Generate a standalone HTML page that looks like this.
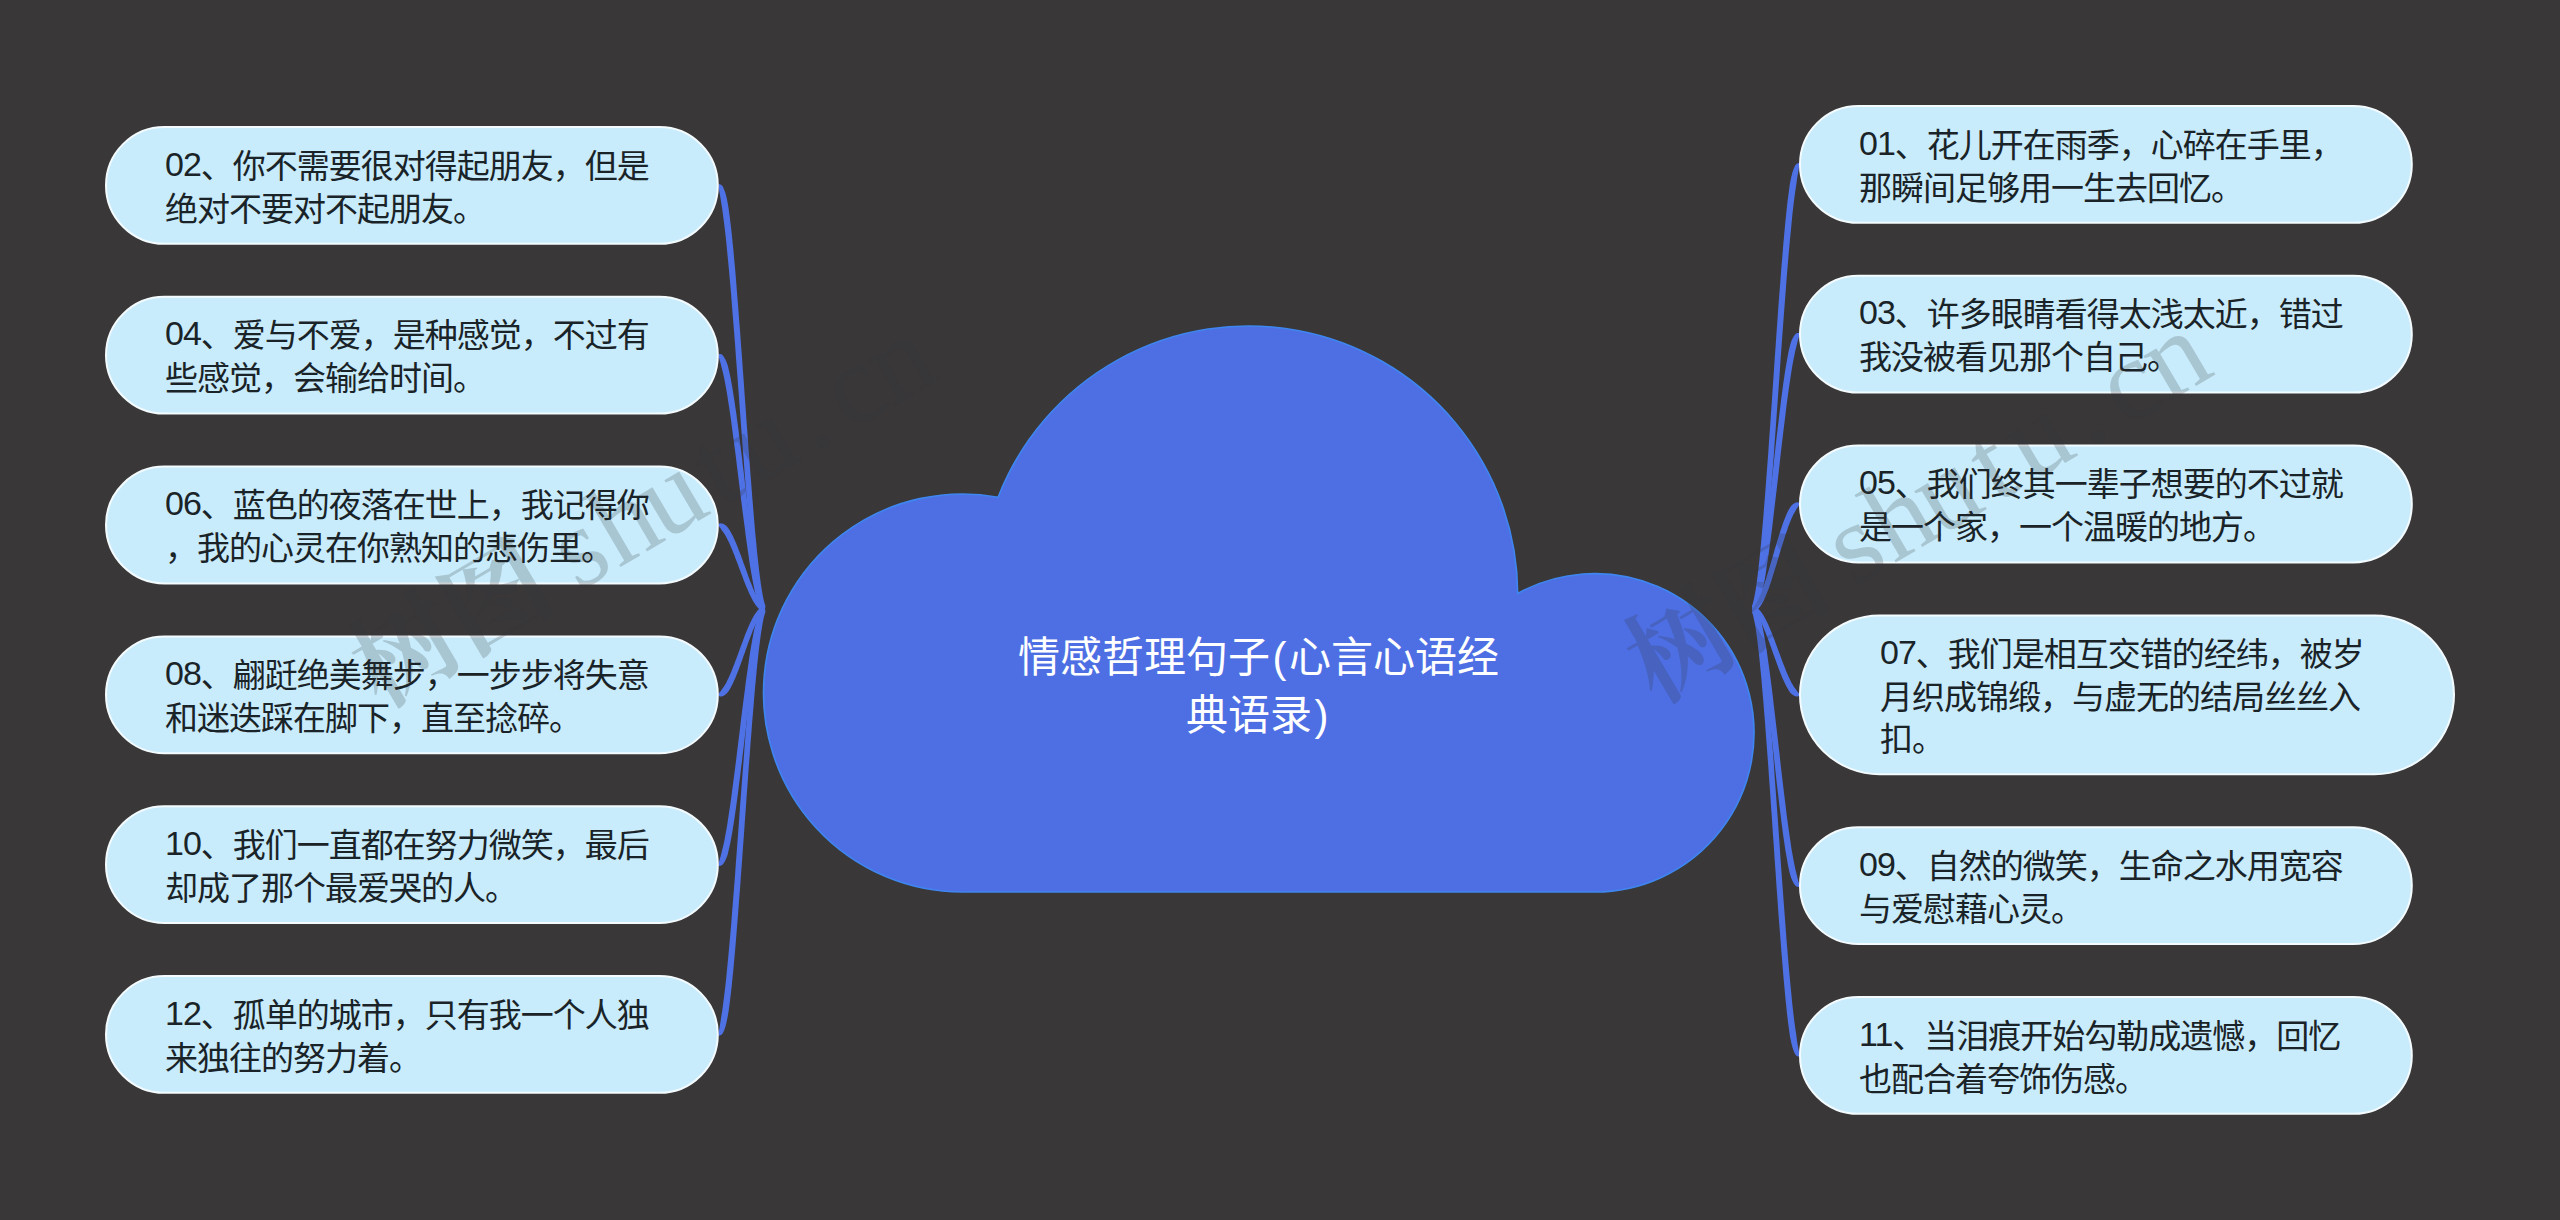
<!DOCTYPE html>
<html lang="zh-CN">
<head>
<meta charset="utf-8">
<title>情感哲理句子(心言心语经典语录)</title>
<style>
html,body{margin:0;padding:0}
body{width:2560px;height:1220px;background:#393738;position:relative;overflow:hidden;
font-family:"Liberation Sans","Noto Sans CJK SC",sans-serif}
.node{position:absolute;
color:#1a2327;font-size:33px;line-height:43px;white-space:nowrap;letter-spacing:-1px}
svg{position:absolute;left:0;top:0}
.lines path{fill:#4e72e6;stroke:none}
.boxes rect{fill:#c8ecfc;stroke:#f4fbff;stroke-width:2}
.title{position:absolute;left:956.5px;top:629px;width:604px;text-align:center;color:#fff;
font-size:42px;line-height:58px}
.d{font-size:34px;position:relative;top:-2px;line-height:1;letter-spacing:-1px}
.p{margin:0 2.5px}
</style>
</head>
<body>
<svg width="2560" height="1220" viewBox="0 0 2560 1220">
<g class="lines">
<path d="M718.8,186.7 L718.3,187.2 L718.7,188.5 L719.3,190.9 L719.9,194.4 L720.6,198.8 L721.4,204.1 L722.4,210.3 L723.3,217.2 L724.3,224.9 L725.3,233.2 L726.3,242.3 L727.2,251.9 L728.2,262.1 L729.2,272.8 L730.2,283.9 L731.2,295.5 L732.1,307.4 L733.1,319.7 L734.1,332.2 L735.1,345.0 L736.0,357.9 L737.0,371.0 L738.0,384.2 L739.0,397.4 L739.9,410.6 L740.9,423.8 L741.9,436.9 L742.9,449.9 L743.9,462.6 L744.8,475.2 L745.8,487.5 L746.8,499.4 L747.8,511.0 L748.7,522.2 L749.7,532.9 L750.7,543.1 L751.7,552.7 L752.7,561.8 L753.6,570.2 L754.6,578.0 L755.6,585.0 L756.6,591.2 L757.6,596.7 L758.6,601.3 L759.6,605.0 L760.7,607.9 L762.8,609.5 L765.0,609.0 L765.0,609.0 L765.3,607.4 L765.4,605.8 L764.6,603.5 L763.7,600.1 L762.8,595.7 L761.9,590.4 L760.9,584.2 L760.0,577.3 L759.0,569.6 L758.1,561.2 L757.1,552.2 L756.2,542.5 L755.2,532.4 L754.3,521.7 L753.4,510.5 L752.4,498.9 L751.5,487.0 L750.5,474.8 L749.6,462.2 L748.6,449.4 L747.7,436.5 L746.7,423.4 L745.8,410.2 L744.8,397.0 L743.9,383.8 L742.9,370.6 L742.0,357.5 L741.0,344.5 L740.1,331.7 L739.1,319.2 L738.2,306.9 L737.2,295.0 L736.3,283.4 L735.4,272.2 L734.4,261.5 L733.5,251.3 L732.5,241.6 L731.6,232.6 L730.6,224.1 L729.7,216.4 L728.7,209.3 L727.7,203.1 L726.6,197.6 L725.4,193.1 L724.1,189.4 L722.8,186.6 L721.2,184.7 L718.8,184.1Z"/>
<path d="M718.8,356.5 L718.7,357.1 L718.9,357.8 L719.4,359.2 L720.0,361.2 L720.7,363.8 L721.5,367.0 L722.4,370.6 L723.4,374.7 L724.4,379.2 L725.3,384.2 L726.3,389.6 L727.3,395.4 L728.2,401.4 L729.2,407.8 L730.2,414.5 L731.2,421.4 L732.1,428.6 L733.1,435.9 L734.1,443.4 L735.1,451.0 L736.1,458.8 L737.0,466.6 L738.0,474.5 L739.0,482.5 L740.0,490.4 L740.9,498.3 L741.9,506.1 L742.9,513.9 L743.9,521.5 L744.9,529.1 L745.8,536.4 L746.8,543.6 L747.8,550.5 L748.8,557.2 L749.7,563.7 L750.7,569.8 L751.7,575.6 L752.7,581.0 L753.7,586.1 L754.7,590.8 L755.7,595.0 L756.7,598.8 L757.7,602.1 L758.7,605.0 L759.8,607.4 L761.0,609.3 L763.1,610.0 L765.0,609.0 L765.0,609.0 L765.0,607.3 L765.1,606.1 L764.4,604.9 L763.6,603.0 L762.7,600.5 L761.8,597.4 L760.9,593.7 L759.9,589.6 L759.0,585.0 L758.1,580.0 L757.1,574.7 L756.2,568.9 L755.2,562.8 L754.3,556.4 L753.3,549.7 L752.4,542.8 L751.4,535.7 L750.5,528.3 L749.6,520.8 L748.6,513.2 L747.7,505.4 L746.7,497.6 L745.8,489.7 L744.8,481.7 L743.9,473.8 L742.9,465.9 L742.0,458.1 L741.0,450.3 L740.1,442.6 L739.1,435.1 L738.2,427.8 L737.2,420.6 L736.3,413.6 L735.3,406.9 L734.4,400.5 L733.4,394.4 L732.5,388.5 L731.5,383.1 L730.6,378.0 L729.6,373.3 L728.6,369.1 L727.7,365.2 L726.5,361.9 L725.3,359.2 L723.9,356.9 L722.5,355.1 L720.8,354.0 L718.8,353.9Z"/>
<path d="M718.8,526.3 L719.4,527.0 L719.8,527.5 L720.3,528.1 L720.9,528.8 L721.4,529.7 L722.1,530.7 L723.0,531.7 L723.8,533.0 L724.8,534.4 L725.7,535.9 L726.6,537.7 L727.5,539.5 L728.5,541.5 L729.5,543.5 L730.4,545.7 L731.4,547.9 L732.3,550.3 L733.3,552.7 L734.3,555.1 L735.2,557.7 L736.2,560.2 L737.2,562.8 L738.2,565.4 L739.1,568.0 L740.1,570.6 L741.1,573.2 L742.1,575.8 L743.1,578.4 L744.0,581.0 L745.0,583.5 L746.0,585.9 L747.0,588.3 L748.0,590.6 L749.0,592.9 L750.0,595.0 L751.0,597.1 L752.0,599.0 L753.0,600.9 L754.0,602.6 L755.1,604.3 L756.1,605.8 L757.2,607.1 L758.3,608.3 L759.5,609.4 L760.7,610.3 L762.0,611.0 L763.7,610.5 L765.0,609.0 L765.0,609.0 L764.4,607.3 L764.1,606.2 L763.5,605.8 L762.8,605.3 L762.1,604.6 L761.3,603.7 L760.4,602.6 L759.5,601.3 L758.7,599.9 L757.8,598.3 L756.8,596.5 L755.9,594.7 L755.0,592.7 L754.1,590.6 L753.1,588.4 L752.2,586.1 L751.3,583.8 L750.3,581.4 L749.4,578.9 L748.4,576.4 L747.5,573.8 L746.6,571.2 L745.6,568.6 L744.7,566.0 L743.7,563.4 L742.8,560.7 L741.8,558.1 L740.9,555.5 L739.9,553.0 L738.9,550.5 L738.0,548.0 L737.0,545.6 L736.1,543.3 L735.1,541.0 L734.1,538.8 L733.2,536.8 L732.2,534.8 L731.2,532.9 L730.2,531.1 L729.2,529.5 L728.1,527.9 L727.0,526.5 L725.8,525.4 L724.4,524.5 L723.1,523.8 L721.6,523.4 L720.2,523.3 L718.8,523.7Z"/>
<path d="M718.8,696.1 L720.2,696.5 L721.6,696.4 L723.1,696.0 L724.5,695.2 L725.8,694.3 L727.1,693.1 L728.1,691.7 L729.2,690.2 L730.2,688.5 L731.2,686.7 L732.2,684.8 L733.2,682.7 L734.1,680.6 L735.1,678.4 L736.1,676.1 L737.0,673.7 L738.0,671.2 L739.0,668.7 L739.9,666.2 L740.9,663.6 L741.8,660.9 L742.8,658.3 L743.7,655.6 L744.7,652.9 L745.6,650.2 L746.6,647.5 L747.5,644.9 L748.4,642.3 L749.4,639.7 L750.3,637.2 L751.3,634.7 L752.2,632.3 L753.1,630.0 L754.1,627.7 L755.0,625.6 L755.9,623.6 L756.9,621.7 L757.8,619.9 L758.7,618.3 L759.6,616.8 L760.4,615.5 L761.3,614.4 L762.1,613.4 L762.9,612.7 L763.5,612.2 L764.1,611.8 L764.4,610.7 L765.0,609.0 L765.0,609.0 L763.7,607.5 L762.0,607.1 L760.7,607.8 L759.4,608.7 L758.3,609.8 L757.2,611.0 L756.1,612.4 L755.0,613.9 L754.0,615.5 L753.0,617.3 L752.0,619.2 L751.0,621.2 L750.0,623.3 L749.0,625.5 L748.0,627.8 L747.0,630.2 L746.0,632.6 L745.0,635.1 L744.0,637.7 L743.1,640.3 L742.1,642.9 L741.1,645.6 L740.1,648.2 L739.1,650.9 L738.2,653.6 L737.2,656.2 L736.2,658.9 L735.2,661.5 L734.3,664.1 L733.3,666.6 L732.3,669.0 L731.4,671.4 L730.4,673.7 L729.4,675.9 L728.5,678.0 L727.5,680.0 L726.6,681.9 L725.7,683.7 L724.7,685.3 L723.8,686.7 L722.9,688.0 L722.1,689.1 L721.4,690.1 L720.8,691.0 L720.3,691.7 L719.8,692.3 L719.3,692.8 L718.8,693.5Z"/>
<path d="M718.8,865.9 L720.8,865.8 L722.5,864.7 L723.9,862.9 L725.3,860.6 L726.5,857.8 L727.7,854.5 L728.6,850.6 L729.6,846.3 L730.6,841.6 L731.5,836.5 L732.5,831.0 L733.4,825.2 L734.4,819.0 L735.3,812.5 L736.3,805.7 L737.2,798.7 L738.2,791.5 L739.1,784.1 L740.1,776.5 L741.0,768.8 L742.0,761.0 L742.9,753.1 L743.9,745.1 L744.8,737.2 L745.8,729.2 L746.7,721.2 L747.7,713.3 L748.6,705.5 L749.6,697.8 L750.5,690.2 L751.4,682.8 L752.4,675.6 L753.3,668.7 L754.3,661.9 L755.2,655.5 L756.2,649.4 L757.1,643.6 L758.1,638.1 L759.0,633.1 L759.9,628.5 L760.9,624.4 L761.8,620.7 L762.7,617.6 L763.6,615.0 L764.4,613.1 L765.2,611.9 L765.0,610.7 L765.0,609.0 L765.0,609.0 L763.1,608.0 L761.0,608.7 L759.8,610.7 L758.7,613.1 L757.7,615.9 L756.7,619.3 L755.7,623.1 L754.7,627.4 L753.7,632.1 L752.7,637.2 L751.7,642.7 L750.7,648.5 L749.7,654.7 L748.8,661.1 L747.8,667.9 L746.8,674.9 L745.8,682.1 L744.9,689.5 L743.9,697.1 L742.9,704.8 L741.9,712.6 L740.9,720.5 L740.0,728.5 L739.0,736.4 L738.0,744.4 L737.0,752.4 L736.1,760.3 L735.1,768.1 L734.1,775.8 L733.1,783.3 L732.1,790.7 L731.2,797.9 L730.2,804.9 L729.2,811.6 L728.2,818.0 L727.3,824.2 L726.3,830.0 L725.3,835.4 L724.4,840.4 L723.4,845.0 L722.4,849.1 L721.5,852.8 L720.7,855.9 L720.0,858.5 L719.4,860.6 L718.9,862.0 L718.7,862.7 L718.8,863.3Z"/>
<path d="M718.8,1035.7 L721.2,1035.1 L722.8,1033.2 L724.1,1030.4 L725.4,1026.7 L726.6,1022.1 L727.7,1016.6 L728.7,1010.4 L729.7,1003.3 L730.6,995.5 L731.6,987.0 L732.5,977.9 L733.5,968.2 L734.4,958.0 L735.4,947.2 L736.3,936.0 L737.2,924.4 L738.2,912.4 L739.1,900.0 L740.1,887.4 L741.0,874.6 L742.0,861.6 L742.9,848.4 L743.9,835.2 L744.8,821.9 L745.8,808.6 L746.7,795.4 L747.7,782.2 L748.6,769.2 L749.6,756.4 L750.5,743.8 L751.5,731.5 L752.4,719.5 L753.4,707.9 L754.3,696.7 L755.2,686.0 L756.2,675.7 L757.1,666.1 L758.1,657.0 L759.0,648.6 L760.0,640.9 L760.9,633.9 L761.9,627.7 L762.8,622.4 L763.7,618.0 L764.6,614.6 L765.4,612.2 L765.3,610.6 L765.0,609.0 L765.0,609.0 L762.8,608.5 L760.7,610.1 L759.6,613.0 L758.6,616.8 L757.6,621.4 L756.6,626.8 L755.6,633.1 L754.6,640.2 L753.6,647.9 L752.7,656.4 L751.7,665.5 L750.7,675.2 L749.7,685.5 L748.7,696.2 L747.8,707.4 L746.8,719.1 L745.8,731.1 L744.8,743.4 L743.9,756.0 L742.9,768.8 L741.9,781.8 L740.9,795.0 L739.9,808.2 L739.0,821.5 L738.0,834.8 L737.0,848.0 L736.0,861.2 L735.1,874.2 L734.1,887.0 L733.1,899.6 L732.1,911.9 L731.2,923.9 L730.2,935.5 L729.2,946.7 L728.2,957.4 L727.2,967.6 L726.3,977.3 L725.3,986.4 L724.3,994.8 L723.3,1002.5 L722.4,1009.4 L721.4,1015.6 L720.6,1020.9 L719.9,1025.4 L719.3,1028.9 L718.7,1031.3 L718.3,1032.6 L718.8,1033.1Z"/>
<path d="M1799.0,163.1 L1796.6,163.7 L1795.0,165.8 L1793.7,168.7 L1792.4,172.5 L1791.2,177.3 L1790.0,183.0 L1789.1,189.6 L1788.1,196.9 L1787.1,205.1 L1786.2,213.9 L1785.2,223.4 L1784.3,233.6 L1783.3,244.3 L1782.4,255.5 L1781.4,267.3 L1780.5,279.4 L1779.5,292.0 L1778.5,304.8 L1777.6,318.0 L1776.6,331.4 L1775.7,345.0 L1774.7,358.8 L1773.8,372.6 L1772.8,386.5 L1771.9,400.4 L1770.9,414.2 L1770.0,428.0 L1769.0,441.6 L1768.1,455.0 L1767.1,468.1 L1766.1,481.0 L1765.2,493.5 L1764.2,505.7 L1763.3,517.4 L1762.3,528.6 L1761.4,539.3 L1760.4,549.4 L1759.5,558.9 L1758.5,567.7 L1757.6,575.7 L1756.6,583.0 L1755.7,589.5 L1754.7,595.0 L1753.8,599.7 L1752.9,603.3 L1752.1,605.7 L1752.2,607.4 L1752.5,609.0 L1752.5,609.0 L1754.7,609.5 L1756.8,607.8 L1757.9,604.8 L1758.9,600.8 L1759.9,596.0 L1760.9,590.3 L1761.9,583.8 L1762.9,576.4 L1763.9,568.3 L1764.9,559.4 L1765.9,549.9 L1766.9,539.8 L1767.9,529.1 L1768.8,517.8 L1769.8,506.1 L1770.8,494.0 L1771.8,481.4 L1772.8,468.5 L1773.8,455.4 L1774.7,442.0 L1775.7,428.4 L1776.7,414.6 L1777.7,400.8 L1778.7,386.9 L1779.7,373.0 L1780.6,359.2 L1781.6,345.4 L1782.6,331.9 L1783.6,318.5 L1784.6,305.3 L1785.6,292.4 L1786.5,279.9 L1787.5,267.8 L1788.5,256.1 L1789.5,244.8 L1790.5,234.2 L1791.5,224.1 L1792.4,214.6 L1793.4,205.8 L1794.4,197.7 L1795.4,190.5 L1796.4,184.0 L1797.1,178.4 L1797.9,173.8 L1798.5,170.1 L1799.1,167.5 L1799.5,166.2 L1799.0,165.7Z"/>
<path d="M1799.0,332.9 L1796.9,333.0 L1795.2,334.3 L1793.8,336.2 L1792.5,338.6 L1791.2,341.6 L1790.1,345.2 L1789.1,349.3 L1788.1,353.9 L1787.2,359.0 L1786.2,364.5 L1785.2,370.4 L1784.3,376.7 L1783.3,383.3 L1782.4,390.3 L1781.4,397.5 L1780.5,405.1 L1779.5,412.8 L1778.6,420.8 L1777.6,428.9 L1776.6,437.2 L1775.7,445.6 L1774.7,454.1 L1773.8,462.7 L1772.8,471.3 L1771.9,479.9 L1770.9,488.4 L1770.0,496.9 L1769.0,505.3 L1768.1,513.6 L1767.1,521.7 L1766.2,529.7 L1765.2,537.4 L1764.3,544.9 L1763.3,552.1 L1762.4,559.1 L1761.4,565.7 L1760.5,571.9 L1759.5,577.7 L1758.6,583.1 L1757.6,588.1 L1756.7,592.6 L1755.7,596.5 L1754.8,599.9 L1753.9,602.7 L1753.0,604.8 L1752.3,606.1 L1752.5,607.3 L1752.5,609.0 L1752.5,609.0 L1754.4,610.0 L1756.6,609.1 L1757.8,607.0 L1758.8,604.5 L1759.9,601.4 L1760.9,597.9 L1761.9,593.8 L1762.9,589.2 L1763.9,584.1 L1764.9,578.6 L1765.9,572.8 L1766.8,566.5 L1767.8,559.8 L1768.8,552.9 L1769.8,545.6 L1770.8,538.1 L1771.8,530.4 L1772.8,522.4 L1773.7,514.3 L1774.7,506.0 L1775.7,497.6 L1776.7,489.1 L1777.7,480.5 L1778.7,471.9 L1779.7,463.3 L1780.6,454.8 L1781.6,446.3 L1782.6,437.9 L1783.6,429.6 L1784.6,421.5 L1785.6,413.6 L1786.5,405.8 L1787.5,398.3 L1788.5,391.1 L1789.5,384.2 L1790.5,377.6 L1791.4,371.4 L1792.4,365.5 L1793.4,360.1 L1794.4,355.2 L1795.3,350.7 L1796.3,346.8 L1797.1,343.4 L1797.8,340.6 L1798.4,338.4 L1798.9,336.9 L1799.1,336.1 L1799.0,335.5Z"/>
<path d="M1799.0,502.7 L1797.5,502.3 L1796.0,502.6 L1794.5,503.2 L1793.1,504.1 L1791.8,505.3 L1790.5,506.7 L1789.5,508.4 L1788.4,510.3 L1787.4,512.3 L1786.4,514.5 L1785.5,516.8 L1784.5,519.3 L1783.5,521.8 L1782.5,524.5 L1781.6,527.4 L1780.6,530.3 L1779.6,533.2 L1778.7,536.3 L1777.7,539.4 L1776.8,542.6 L1775.8,545.9 L1774.8,549.1 L1773.9,552.4 L1772.9,555.7 L1772.0,559.0 L1771.0,562.2 L1770.1,565.5 L1769.1,568.7 L1768.2,571.8 L1767.2,574.9 L1766.3,577.9 L1765.3,580.9 L1764.4,583.7 L1763.4,586.5 L1762.5,589.1 L1761.6,591.6 L1760.6,593.9 L1759.7,596.1 L1758.8,598.1 L1757.9,600.0 L1757.0,601.6 L1756.1,603.0 L1755.3,604.2 L1754.5,605.1 L1753.8,605.8 L1753.2,606.2 L1753.0,607.3 L1752.5,609.0 L1752.5,609.0 L1753.9,610.4 L1755.7,610.8 L1757.0,609.9 L1758.3,608.8 L1759.4,607.5 L1760.5,606.0 L1761.6,604.3 L1762.6,602.5 L1763.7,600.5 L1764.7,598.3 L1765.7,596.0 L1766.7,593.6 L1767.7,591.0 L1768.7,588.4 L1769.7,585.6 L1770.7,582.7 L1771.7,579.7 L1772.7,576.6 L1773.6,573.5 L1774.6,570.3 L1775.6,567.1 L1776.6,563.9 L1777.6,560.6 L1778.6,557.3 L1779.5,554.1 L1780.5,550.8 L1781.5,547.6 L1782.5,544.4 L1783.5,541.2 L1784.5,538.1 L1785.4,535.1 L1786.4,532.2 L1787.4,529.4 L1788.3,526.6 L1789.3,524.0 L1790.3,521.5 L1791.2,519.2 L1792.2,517.1 L1793.1,515.1 L1794.1,513.3 L1795.0,511.7 L1795.8,510.3 L1796.5,509.1 L1797.1,508.0 L1797.7,507.2 L1798.1,506.5 L1798.5,506.0 L1799.0,505.3Z"/>
<path d="M1799.0,693.5 L1798.4,692.8 L1798.0,692.3 L1797.5,691.7 L1796.9,691.0 L1796.3,690.1 L1795.7,689.1 L1794.8,688.0 L1793.9,686.7 L1793.0,685.3 L1792.1,683.7 L1791.1,681.9 L1790.2,680.0 L1789.2,678.0 L1788.3,675.9 L1787.3,673.7 L1786.3,671.4 L1785.4,669.0 L1784.4,666.6 L1783.4,664.0 L1782.4,661.5 L1781.5,658.9 L1780.5,656.2 L1779.5,653.6 L1778.5,650.9 L1777.5,648.2 L1776.5,645.6 L1775.6,642.9 L1774.6,640.3 L1773.6,637.7 L1772.6,635.1 L1771.6,632.6 L1770.6,630.2 L1769.6,627.8 L1768.6,625.5 L1767.6,623.3 L1766.6,621.2 L1765.6,619.2 L1764.6,617.3 L1763.5,615.5 L1762.5,613.9 L1761.5,612.4 L1760.4,611.0 L1759.2,609.8 L1758.1,608.7 L1756.8,607.8 L1755.5,607.1 L1753.8,607.5 L1752.5,609.0 L1752.5,609.0 L1753.1,610.7 L1753.4,611.8 L1754.0,612.2 L1754.7,612.7 L1755.4,613.4 L1756.3,614.4 L1757.1,615.5 L1758.0,616.8 L1758.9,618.3 L1759.8,619.9 L1760.7,621.7 L1761.6,623.6 L1762.6,625.6 L1763.5,627.8 L1764.4,630.0 L1765.4,632.3 L1766.3,634.7 L1767.3,637.2 L1768.2,639.7 L1769.2,642.3 L1770.1,644.9 L1771.1,647.5 L1772.0,650.2 L1773.0,652.9 L1773.9,655.6 L1774.9,658.3 L1775.9,660.9 L1776.8,663.6 L1777.8,666.2 L1778.7,668.7 L1779.7,671.3 L1780.7,673.7 L1781.6,676.1 L1782.6,678.4 L1783.6,680.6 L1784.6,682.7 L1785.6,684.8 L1786.6,686.7 L1787.6,688.5 L1788.6,690.2 L1789.6,691.7 L1790.7,693.2 L1792.0,694.3 L1793.3,695.3 L1794.7,696.0 L1796.2,696.4 L1797.6,696.5 L1799.0,696.1Z"/>
<path d="M1799.0,884.3 L1799.1,883.7 L1798.9,882.9 L1798.4,881.4 L1797.8,879.2 L1797.1,876.3 L1796.3,872.9 L1795.3,869.0 L1794.4,864.5 L1793.4,859.5 L1792.4,854.1 L1791.4,848.2 L1790.5,841.9 L1789.5,835.3 L1788.5,828.3 L1787.5,821.0 L1786.5,813.5 L1785.6,805.7 L1784.6,797.7 L1783.6,789.5 L1782.6,781.2 L1781.6,772.8 L1780.6,764.2 L1779.7,755.6 L1778.7,747.0 L1777.7,738.3 L1776.7,729.7 L1775.7,721.2 L1774.7,712.7 L1773.7,704.4 L1772.8,696.2 L1771.8,688.2 L1770.8,680.4 L1769.8,672.8 L1768.8,665.5 L1767.8,658.5 L1766.9,651.8 L1765.9,645.5 L1764.9,639.6 L1763.9,634.0 L1762.9,629.0 L1761.9,624.3 L1760.9,620.2 L1759.9,616.6 L1758.8,613.5 L1757.8,611.0 L1756.6,608.9 L1754.4,608.0 L1752.5,609.0 L1752.5,609.0 L1752.5,610.7 L1752.3,611.9 L1753.0,613.2 L1753.9,615.3 L1754.8,618.1 L1755.7,621.5 L1756.7,625.5 L1757.6,630.0 L1758.6,635.0 L1759.5,640.5 L1760.4,646.4 L1761.4,652.6 L1762.4,659.3 L1763.3,666.2 L1764.3,673.5 L1765.2,681.1 L1766.2,688.9 L1767.1,696.9 L1768.1,705.0 L1769.0,713.4 L1770.0,721.8 L1770.9,730.4 L1771.9,739.0 L1772.8,747.6 L1773.8,756.3 L1774.7,764.9 L1775.7,773.4 L1776.6,781.9 L1777.6,790.2 L1778.6,798.4 L1779.5,806.5 L1780.5,814.3 L1781.4,821.8 L1782.4,829.2 L1783.3,836.2 L1784.3,842.8 L1785.2,849.2 L1786.2,855.1 L1787.2,860.6 L1788.1,865.7 L1789.1,870.4 L1790.1,874.5 L1791.2,878.1 L1792.5,881.1 L1793.8,883.6 L1795.2,885.5 L1796.9,886.8 L1799.0,886.9Z"/>
<path d="M1799.0,1054.1 L1799.5,1053.6 L1799.1,1052.2 L1798.5,1049.7 L1797.9,1046.0 L1797.1,1041.3 L1796.4,1035.7 L1795.4,1029.2 L1794.4,1021.9 L1793.4,1013.8 L1792.4,1005.0 L1791.5,995.5 L1790.5,985.4 L1789.5,974.6 L1788.5,963.4 L1787.5,951.6 L1786.5,939.4 L1785.6,926.9 L1784.6,913.9 L1783.6,900.7 L1782.6,887.3 L1781.6,873.6 L1780.6,859.8 L1779.7,845.9 L1778.7,832.0 L1777.7,818.1 L1776.7,804.2 L1775.7,790.4 L1774.7,776.7 L1773.8,763.3 L1772.8,750.0 L1771.8,737.1 L1770.8,724.5 L1769.8,712.3 L1768.8,700.5 L1767.9,689.3 L1766.9,678.5 L1765.9,668.3 L1764.9,658.8 L1763.9,649.9 L1762.9,641.7 L1761.9,634.3 L1760.9,627.8 L1759.9,622.0 L1758.9,617.2 L1757.9,613.3 L1756.8,610.2 L1754.7,608.5 L1752.5,609.0 L1752.5,609.0 L1752.2,610.6 L1752.0,612.3 L1752.9,614.8 L1753.8,618.4 L1754.7,623.0 L1755.7,628.6 L1756.6,635.1 L1757.6,642.4 L1758.5,650.5 L1759.5,659.3 L1760.4,668.9 L1761.4,679.0 L1762.3,689.7 L1763.3,701.0 L1764.2,712.8 L1765.2,725.0 L1766.1,737.5 L1767.1,750.5 L1768.1,763.7 L1769.0,777.1 L1770.0,790.8 L1770.9,804.6 L1771.9,818.5 L1772.8,832.4 L1773.8,846.3 L1774.7,860.2 L1775.7,874.0 L1776.6,887.7 L1777.6,901.2 L1778.5,914.4 L1779.5,927.3 L1780.5,939.9 L1781.4,952.1 L1782.4,963.9 L1783.3,975.2 L1784.3,985.9 L1785.2,996.1 L1786.2,1005.7 L1787.1,1014.6 L1788.1,1022.7 L1789.1,1030.1 L1790.0,1036.7 L1791.2,1042.4 L1792.4,1047.2 L1793.7,1051.1 L1795.0,1054.0 L1796.6,1056.1 L1799.0,1056.7Z"/>
</g>
<path d="M962.5,892 A199,199 0 1 1 998.10,497.21 A269,269 0 0 1 1517.70,593.52 A159.2,159.2 0 1 1 1594.8,892 Z" fill="#4d6fe3" stroke="#3f86f0" stroke-width="1.6" stroke-linejoin="miter"/>
<g class="boxes">
<rect x="106.0" y="127.0" width="611.8" height="116.8" rx="58.4"/>
<rect x="106.0" y="296.8" width="611.8" height="116.8" rx="58.4"/>
<rect x="106.0" y="466.6" width="611.8" height="116.8" rx="58.4"/>
<rect x="106.0" y="636.4" width="611.8" height="116.8" rx="58.4"/>
<rect x="106.0" y="806.2" width="611.8" height="116.8" rx="58.4"/>
<rect x="106.0" y="976.0" width="611.8" height="116.8" rx="58.4"/>
<rect x="1800.0" y="106.0" width="611.8" height="116.8" rx="58.4"/>
<rect x="1800.0" y="275.8" width="611.8" height="116.8" rx="58.4"/>
<rect x="1800.0" y="445.6" width="611.8" height="116.8" rx="58.4"/>
<rect x="1800.0" y="615.4" width="654.0" height="158.8" rx="79.4"/>
<rect x="1800.0" y="827.2" width="611.8" height="116.8" rx="58.4"/>
<rect x="1800.0" y="997.0" width="611.8" height="116.8" rx="58.4"/>
</g>
</svg>
<div class="node" style="left:165.0px;top:145px"><span class="d">02</span>、你不需要很对得起朋友，但是</div>
<div class="node" style="left:165.0px;top:188px">绝对不要对不起朋友。</div>
<div class="node" style="left:165.0px;top:314px"><span class="d">04</span>、爱与不爱，是种感觉，不过有</div>
<div class="node" style="left:165.0px;top:357px">些感觉，会输给时间。</div>
<div class="node" style="left:165.0px;top:484px"><span class="d">06</span>、蓝色的夜落在世上，我记得你</div>
<div class="node" style="left:165.0px;top:527px">，我的心灵在你熟知的悲伤里。</div>
<div class="node" style="left:165.0px;top:654px"><span class="d">08</span>、翩跹绝美舞步，一步步将失意</div>
<div class="node" style="left:165.0px;top:697px">和迷迭踩在脚下，直至捻碎。</div>
<div class="node" style="left:165.0px;top:824px"><span class="d">10</span>、我们一直都在努力微笑，最后</div>
<div class="node" style="left:165.0px;top:867px">却成了那个最爱哭的人。</div>
<div class="node" style="left:165.0px;top:994px"><span class="d">12</span>、孤单的城市，只有我一个人独</div>
<div class="node" style="left:165.0px;top:1037px">来独往的努力着。</div>
<div class="node" style="left:1859.0px;top:124px"><span class="d">01</span>、花儿开在雨季，心碎在手里，</div>
<div class="node" style="left:1859.0px;top:167px">那瞬间足够用一生去回忆。</div>
<div class="node" style="left:1859.0px;top:293px"><span class="d">03</span>、许多眼睛看得太浅太近，错过</div>
<div class="node" style="left:1859.0px;top:336px">我没被看见那个自己。</div>
<div class="node" style="left:1859.0px;top:463px"><span class="d">05</span>、我们终其一辈子想要的不过就</div>
<div class="node" style="left:1859.0px;top:506px">是一个家，一个温暖的地方。</div>
<div class="node" style="left:1880.0px;top:633px"><span class="d">07</span>、我们是相互交错的经纬，被岁</div>
<div class="node" style="left:1880.0px;top:676px">月织成锦缎，与虚无的结局丝丝入</div>
<div class="node" style="left:1880.0px;top:718px">扣。</div>
<div class="node" style="left:1859.0px;top:845px"><span class="d">09</span>、自然的微笑，生命之水用宽容</div>
<div class="node" style="left:1859.0px;top:888px">与爱慰藉心灵。</div>
<div class="node" style="left:1859.0px;top:1015px"><span class="d">11</span>、当泪痕开始勾勒成遗憾，回忆</div>
<div class="node" style="left:1859.0px;top:1058px">也配合着夸饰伤感。</div>
<div class="title">情感哲理句子<span class="p">(</span>心言心语经<br>典语录<span class="p">)</span></div>
<svg class="wmsvg" width="2560" height="1220" viewBox="0 0 2560 1220">
<g fill="rgba(50,50,57,.21)">
<text transform="translate(380.2,708.5) rotate(-30.5)"><tspan x="0" font-family="'Noto Serif CJK SC',serif" font-weight="700" font-size="104">树图</tspan><tspan x="229.8 276.5 329.5 395.2 435.5 502.8 544.7 594.5" font-family="'Liberation Serif',serif" font-size="114">shutu.cn</tspan></text>
<text transform="translate(1655.6,704.2) rotate(-30.5)"><tspan x="0" font-family="'Noto Serif CJK SC',serif" font-weight="700" font-size="104">树图</tspan><tspan x="229.8 276.5 329.5 395.2 435.5 502.8 544.7 594.5" font-family="'Liberation Serif',serif" font-size="114">shutu.cn</tspan></text>
</g>
</svg>
</body>
</html>
